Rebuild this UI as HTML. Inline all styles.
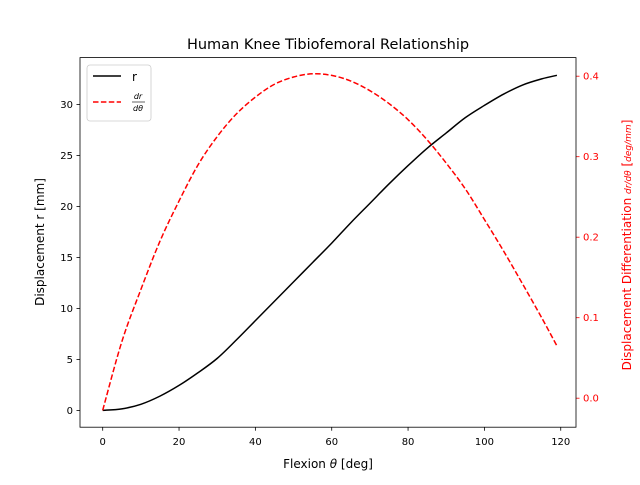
<!DOCTYPE html>
<html><head><meta charset="utf-8"><style>
body{margin:0;background:#fff}
svg text{font-family:"DejaVu Sans","Liberation Sans",sans-serif}
</style></head><body>
<svg id="chart" width="640" height="480" xmlns="http://www.w3.org/2000/svg">
<rect width="640" height="480" fill="#fff"/>
<text x="328" y="49" font-size="14.5" text-anchor="middle">Human Knee Tibiofemoral Relationship</text>
<g id="plot"></g>
<rect x="80" y="57.6" width="496" height="369.6" fill="none" stroke="#000" stroke-width="0.8"/>
<text x="328" y="468" font-size="12" text-anchor="middle">Flexion <tspan font-style="italic">θ</tspan> [deg]</text>
<text transform="translate(44,242) rotate(-90)" font-size="12" text-anchor="middle">Displacement r [mm]</text>
<text transform="translate(631,245) rotate(-90)" font-size="12" text-anchor="middle" fill="red">Displacement Differentiation <tspan font-size="9" font-style="italic">dr/dθ</tspan> [<tspan font-size="9" font-style="italic">deg/mm</tspan>]</text>
<g>
<rect x="87" y="65" width="64" height="56" rx="3" fill="#fff" stroke="#ccc" stroke-width="0.8"/>
<line x1="93" y1="76" x2="121" y2="76" stroke="#000" stroke-width="1.5"/>
<text x="132" y="81" font-size="12">r</text>
<line x1="93" y1="102" x2="121" y2="102" stroke="red" stroke-width="1.5" stroke-dasharray="5.5,2.4"/>
<text x="138" y="99" font-size="8" font-style="italic" text-anchor="middle">dr</text>
<line x1="132" y1="102" x2="145" y2="102" stroke="#000" stroke-width="0.6"/>
<text x="138" y="111" font-size="8" font-style="italic" text-anchor="middle">dθ</text>
</g>
</svg>
<script>
const thetas=[0,5,10,15,20,25,30,35,40,45,50,55,60,65,70,75,80,85,90,95,100,105,110,115,119];
const rVals=[0,0.15,0.6,1.4,2.45,3.7,5.1,6.9,8.8,10.7,12.6,14.5,16.4,18.4,20.3,22.2,24.0,25.7,27.2,28.7,29.9,31.0,31.9,32.5,32.85];
const dVals=[-0.015,0.07,0.135,0.195,0.245,0.29,0.325,0.353,0.374,0.39,0.399,0.403,0.401,0.394,0.382,0.366,0.346,0.321,0.292,0.26,0.222,0.183,0.142,0.1,0.065];
const xTicks=[0,20,40,60,80,100,120];
const yTicks=[0,5,10,15,20,25,30];
const y2Ticks=[0.0,0.1,0.2,0.3,0.4];
const NS="http://www.w3.org/2000/svg";
const X=v=>102.7+v*3.817;
const Y=v=>410.4-v*10.2;
const Y2=v=>398.2-v*805;
const g=document.getElementById('plot');
function mk(t,a){const e=document.createElementNS(NS,t);for(const k in a)e.setAttribute(k,a[k]);g.appendChild(e);return e;}
function smooth(p){
 let d='M'+p[0][0]+','+p[0][1];
 for(let i=0;i<p.length-1;i++){
  const p0=p[Math.max(i-1,0)],p1=p[i],p2=p[i+1],p3=p[Math.min(i+2,p.length-1)];
  const c1=[p1[0]+(p2[0]-p0[0])/6,p1[1]+(p2[1]-p0[1])/6];
  const c2=[p2[0]-(p3[0]-p1[0])/6,p2[1]-(p3[1]-p1[1])/6];
  d+=' C'+c1[0]+','+c1[1]+' '+c2[0]+','+c2[1]+' '+p2[0]+','+p2[1];
 }
 return d;
}
xTicks.forEach(v=>{
 const l=mk('line',{x1:X(v),x2:X(v),y1:427.2,y2:430.7,stroke:'#000','stroke-width':0.8});
 
 
 const t=mk('text',{x:X(v),y:445,'font-size':10,'text-anchor':'middle'});t.textContent=v;
 
 
});
yTicks.forEach(v=>{
 const l=mk('line',{x1:76.5,x2:80,y1:Y(v),y2:Y(v),stroke:'#000','stroke-width':0.8});
 
 
 const t=mk('text',{x:73,y:Y(v)+3.5,'font-size':10,'text-anchor':'end'});t.textContent=v;
 
 
});
y2Ticks.forEach(v=>{
 const l=mk('line',{x1:576,x2:579.5,y1:Y2(v),y2:Y2(v),stroke:'red','stroke-width':0.8});
 
 
 const t=mk('text',{x:583,y:Y2(v)+3.5,'font-size':10,fill:'red'});t.textContent=v.toFixed(1);
 
 
});
const rl=mk('path',{d:smooth(thetas.map((t,i)=>[X(t),Y(rVals[i])])),fill:'none',stroke:'#000','stroke-width':1.5});


const dl=mk('path',{d:smooth(thetas.map((t,i)=>[X(t),Y2(dVals[i])])),fill:'none',stroke:'red','stroke-width':1.5,'stroke-dasharray':'5.5,2.4'});


</script>
</body></html>
